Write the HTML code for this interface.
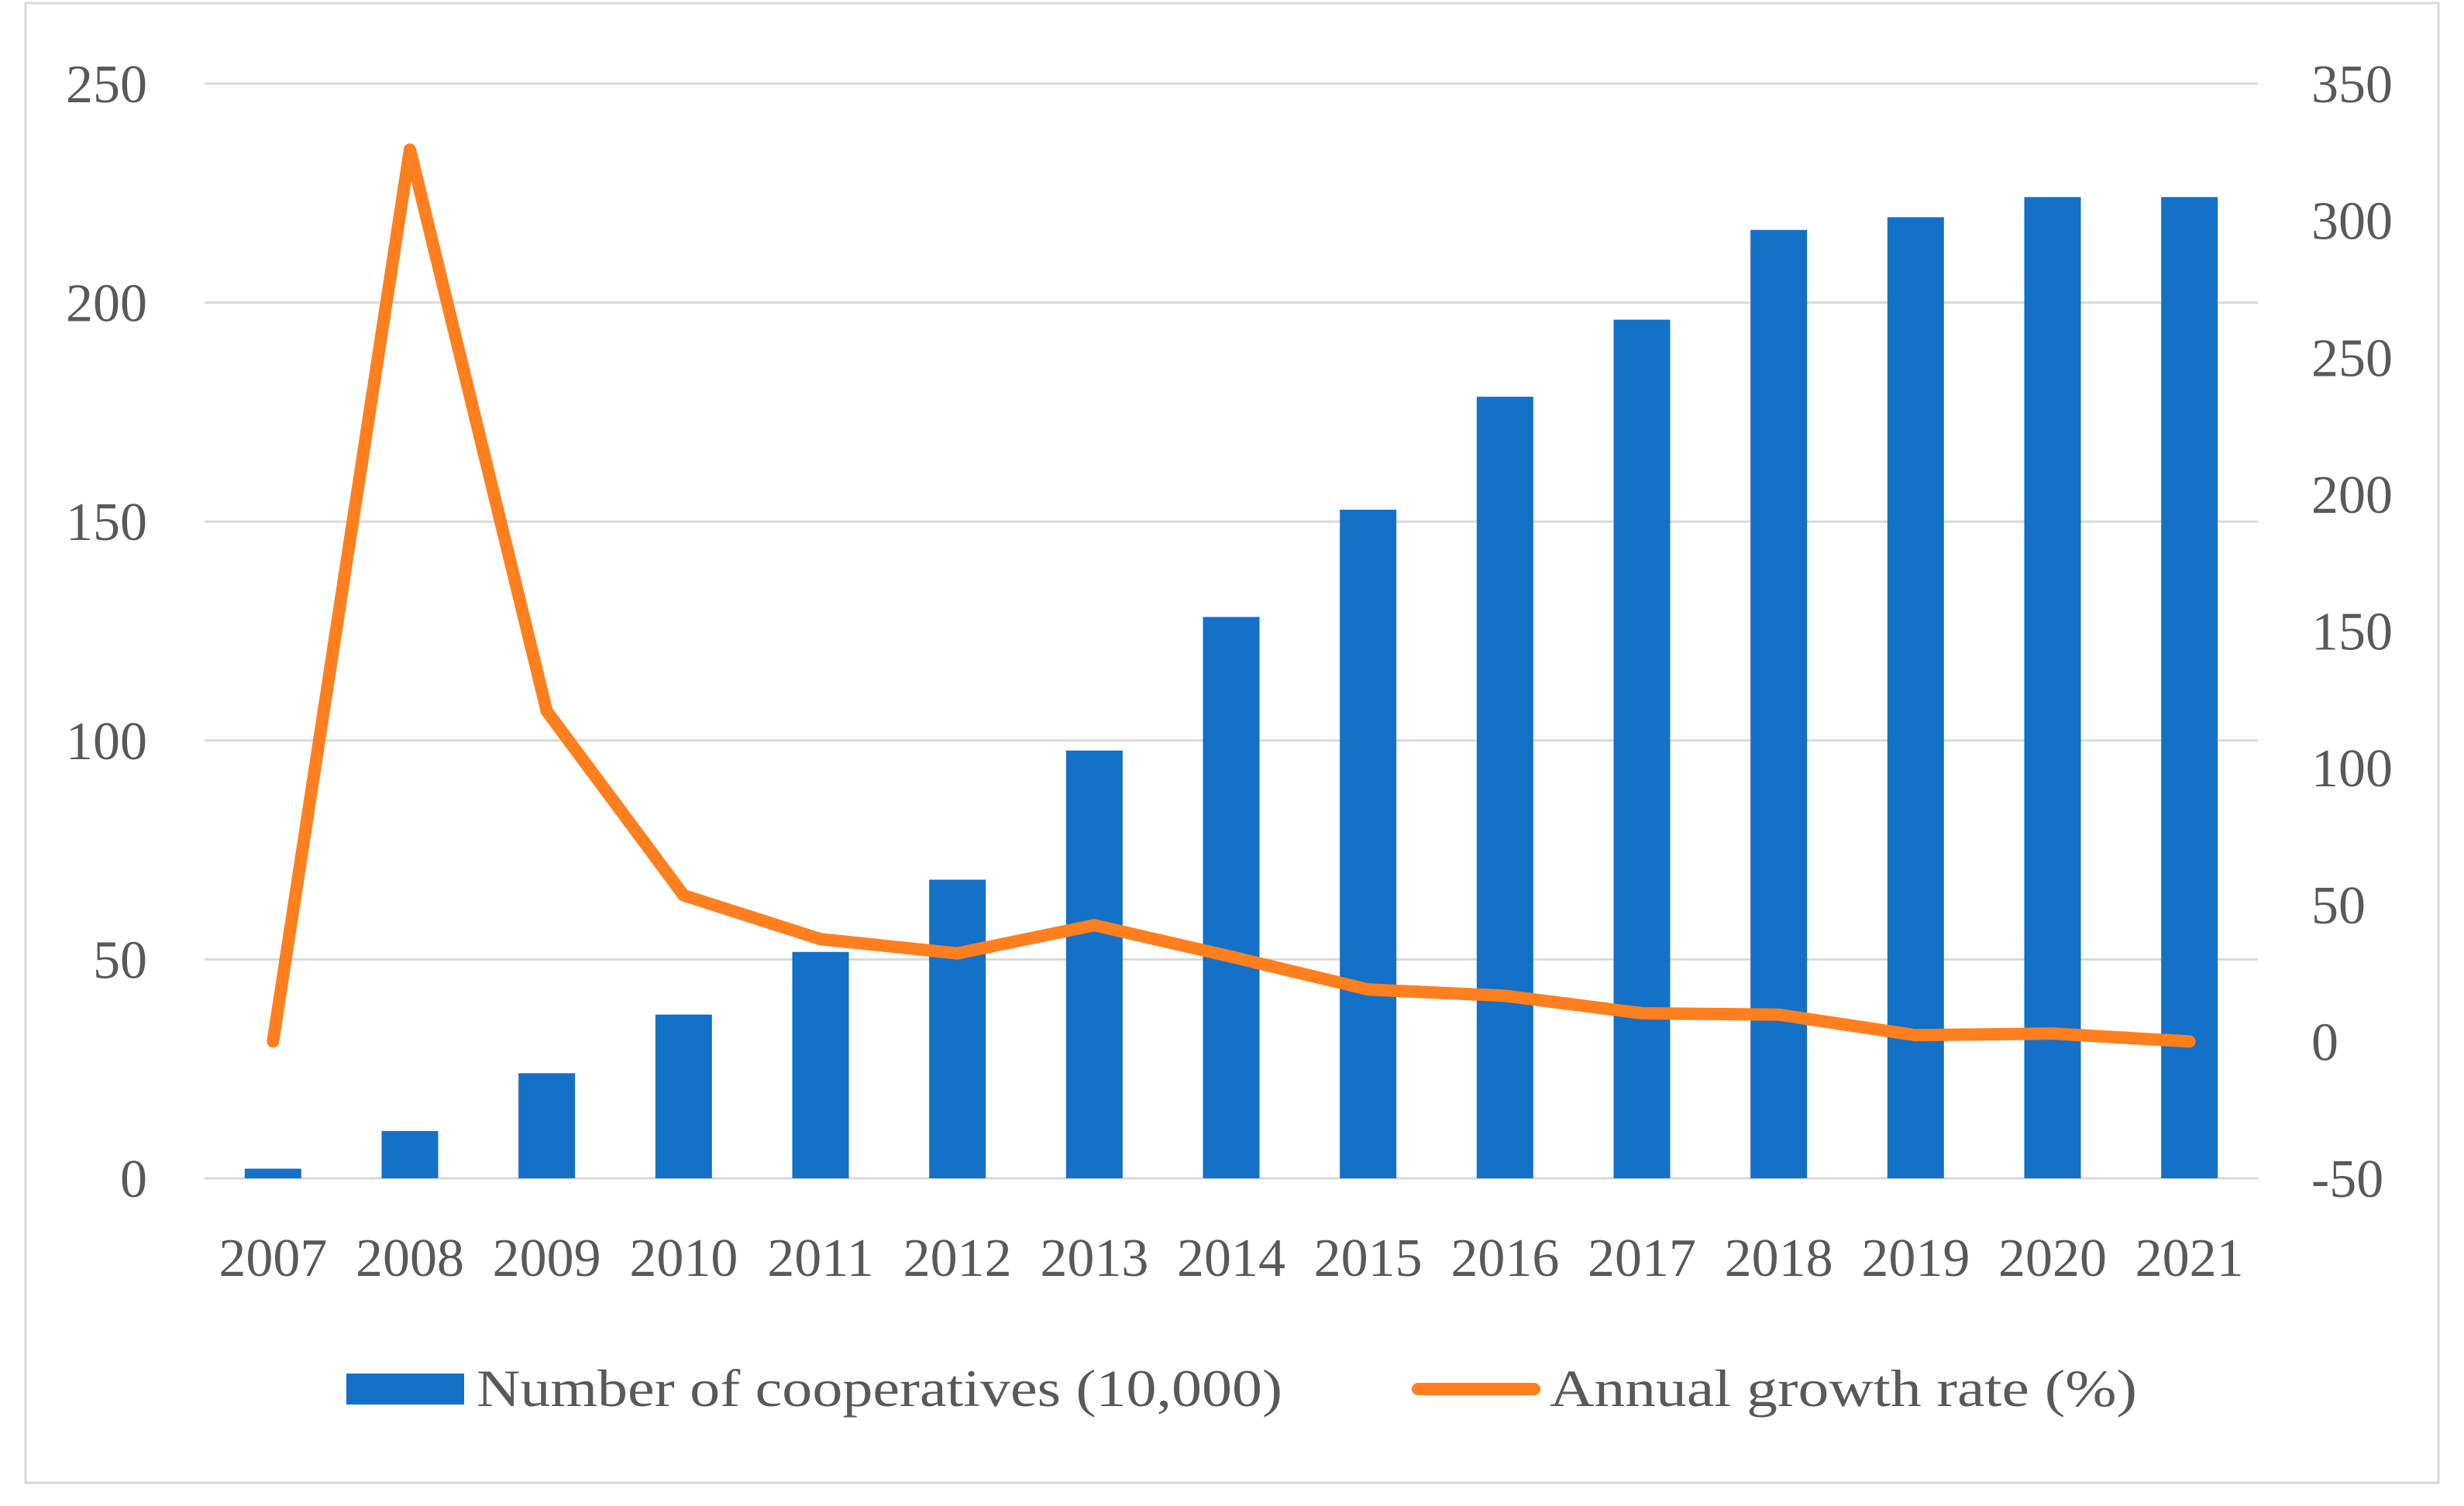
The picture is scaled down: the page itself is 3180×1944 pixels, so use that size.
<!DOCTYPE html>
<html><head><meta charset="utf-8"><style>
html,body{margin:0;padding:0;background:#fff}
svg{display:block}
text{font-family:"Liberation Serif",serif;fill:#595959}
</style></head><body>
<svg id="chart" width="3180" height="1944" viewBox="0 0 3180 1944" xmlns="http://www.w3.org/2000/svg">
<rect x="33" y="4" width="3114" height="1910" fill="#fff" stroke="#d9d9d9" stroke-width="3"/>
<g id="grid"></g><g id="bars"></g><g id="line"></g><g id="axes"></g>
<g>
<rect x="447" y="1773" width="152" height="40" fill="#1570C7"/>
<text x="615" y="1815" font-size="68" textLength="1040" lengthAdjust="spacingAndGlyphs">Number of cooperatives (10,000)</text>
<line x1="1830" y1="1793" x2="1980" y2="1793" stroke="#FF7F1E" stroke-width="16" stroke-linecap="round"/>
<text x="2000" y="1815" font-size="68" textLength="758" lengthAdjust="spacingAndGlyphs">Annual growth rate (%)</text>
</g>
</svg>
<script>
const categories=["2007","2008","2009","2010","2011","2012","2013","2014","2015","2016","2017","2018","2019","2020","2021"];
const cooperatives=[2.2,10.8,24,37.4,51.7,68.2,97.7,128.2,152.7,178.5,196.1,216.6,219.5,224.1,224.1];
const growthRate=[0,325.9,120.7,53.4,37.4,32.2,42.5,31,19,16.7,10.3,9.8,2.3,2.9,0];
const leftTicks=[0,50,100,150,200,250];
const rightTicks=[-50,0,50,100,150,200,250,300,350];
const NS="http://www.w3.org/2000/svg";
const L=264,R=2914,T=108,B=1521;
const band=(R-L)/categories.length;
const xc=i=>L+band*(i+0.5);
const yl=v=>B-(v/250)*(B-T);
const yr=v=>B-((v+50)/400)*(B-T);
function mk(tag,attrs,parent){const e=document.createElementNS(NS,tag);for(const k in attrs)e.setAttribute(k,attrs[k]);parent.appendChild(e);return e;}
const grid=document.getElementById('grid'),bars=document.getElementById('bars'),line=document.getElementById('line'),axes=document.getElementById('axes');
leftTicks.forEach(v=>{
  const g=mk('line',{x1:L,x2:R,y1:yl(v),y2:yl(v),stroke:'#d9d9d9','stroke-width':3},grid);
  
  
  const t=mk('text',{x:190,y:yl(v)+24,'text-anchor':'end','font-size':70},axes);
  t.textContent=v;
  
  
});
rightTicks.forEach(v=>{
  const t=mk('text',{x:2983,y:yr(v)+24,'font-size':70},axes);
  t.textContent=v;
  
  
});
const bw=73;
cooperatives.forEach((v,i)=>{
  const r=mk('rect',{x:xc(i)-bw/2,y:yl(v),width:bw,height:B-yl(v),fill:'#1570C7'},bars);
  
  
});
categories.forEach((c,i)=>{
  const t=mk('text',{x:xc(i),y:1647,'text-anchor':'middle','font-size':70},axes);
  t.textContent=c;
  
  
});
const pts=growthRate.map((v,i)=>xc(i)+','+yr(v)).join(' ');
const pl=mk('polyline',{points:pts,fill:'none',stroke:'#FF7F1E','stroke-width':16,'stroke-linejoin':'round','stroke-linecap':'round'},line);


</script>
</body></html>
